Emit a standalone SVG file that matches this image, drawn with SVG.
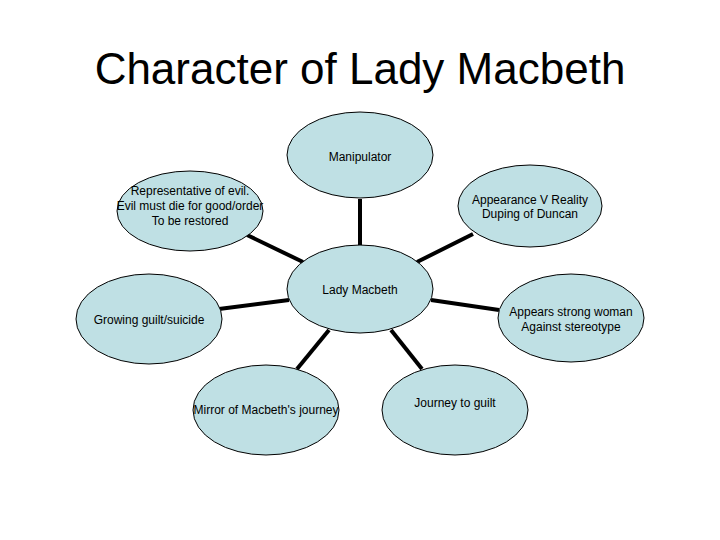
<svg xmlns="http://www.w3.org/2000/svg" width="720" height="540" viewBox="0 0 720 540">
<style>
.n{fill:#BFE0E4;stroke:#000;stroke-width:1}
.t{font-family:"Liberation Sans",Arial,sans-serif;font-size:12px;fill:#000;text-anchor:middle}
.c{stroke:#000;stroke-width:4;fill:none}
.title{font-family:"Liberation Sans",Arial,sans-serif;font-size:44px;fill:#000;text-anchor:middle}
</style>
<rect width="720" height="540" fill="#fff"/>
<text class="title" x="360" y="84">Character of Lady Macbeth</text>
<g id="connectors">
<line class="c" x1="360" y1="199" x2="360" y2="246"/>
<line class="c" x1="247" y1="235" x2="303" y2="262"/>
<line class="c" x1="473" y1="234" x2="417" y2="262"/>
<line class="c" x1="219" y1="309" x2="289" y2="300"/>
<line class="c" x1="431" y1="300" x2="499" y2="310"/>
<line class="c" x1="329" y1="330" x2="297" y2="369"/>
<line class="c" x1="391" y1="330" x2="422" y2="369"/>
</g>
<g id="manipulator"><ellipse class="n" cx="360" cy="155" rx="73" ry="43"/><text class="t" x="360" y="161">Manipulator</text></g>
<g id="representative"><ellipse class="n" cx="190" cy="211" rx="73" ry="40"/><text class="t" x="190" y="195">Representative of evil.</text><text class="t" x="190" y="210">Evil must die for good/order</text><text class="t" x="190" y="225">To be restored</text></g>
<g id="appearance"><ellipse class="n" cx="530" cy="206" rx="72" ry="41"/><text class="t" x="530" y="204">Appearance V Reality</text><text class="t" x="530" y="218">Duping of Duncan</text></g>
<g id="lady"><ellipse class="n" cx="360" cy="289" rx="73" ry="44"/><text class="t" x="360" y="294">Lady Macbeth</text></g>
<g id="growing"><ellipse class="n" cx="149" cy="319" rx="73" ry="45"/><text class="t" x="149" y="324">Growing guilt/suicide</text></g>
<g id="appears"><ellipse class="n" cx="571" cy="318" rx="73" ry="44"/><text class="t" x="571" y="316">Appears strong woman</text><text class="t" x="571" y="331">Against stereotype</text></g>
<g id="mirror"><ellipse class="n" cx="266" cy="410" rx="73" ry="45"/><text class="t" x="266" y="414">Mirror of Macbeth's journey</text></g>
<g id="journey"><ellipse class="n" cx="455" cy="410" rx="73" ry="45"/><text class="t" x="455" y="407">Journey to guilt</text></g>
</svg>
